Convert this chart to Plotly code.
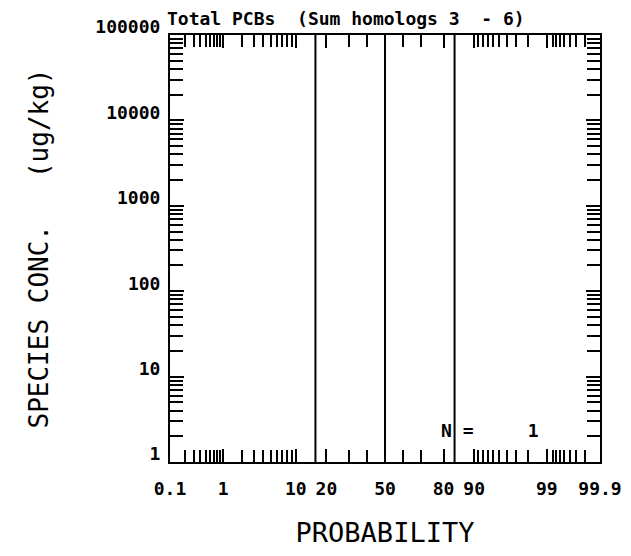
import math
import plotly.graph_objects as go
from statistics import NormalDist

# ---- data ----
title_text = "Total PCBs\u00a0\u00a0(Sum homologs 3\u00a0\u00a0-\u00a06)"
x_major_probs = [0.1, 1, 10, 20, 50, 80, 90, 99, 99.9]
x_major_labels = ["0.1", "1", "10", "20", "50", "80", "90", "99", "99.9"]
x_minor_probs = [0.2, 0.3, 0.4, 0.5, 0.6, 0.7, 0.8, 0.9,
                 2, 3, 4, 5, 6, 7, 8, 9,
                 30, 40, 60, 70,
                 91, 92, 93, 94, 95, 96, 97, 98,
                 99.2, 99.3, 99.4, 99.5, 99.6, 99.7, 99.8]
y_major_vals = [1, 10, 100, 1000, 10000, 100000]
y_major_labels = ["1", "10", "100", "1000", "10000", "100000"]
y_minor_mults = [2, 3, 4, 5, 6, 7, 8, 9]
line_probs = [15.87, 50, 84.13]   # mean and +/- 1 sigma
n_samples = 1
y_low, y_high = 1, 100000
p_low, p_high = 0.1, 99.9

nd = NormalDist()
def z(p):
    return nd.inv_cdf(p / 100.0)

x_major = [z(p) for p in x_major_probs]
x_minor = [z(p) for p in x_minor_probs]
y_minor = [m * d for d in y_major_vals[:-1] for m in y_minor_mults]

xr = [z(p_low), z(p_high)]
yr = [math.log10(y_low), math.log10(y_high)]

fig = go.Figure()

lx, ly = [], []
for p in line_probs:
    lx += [z(p), z(p), None]
    ly += [y_low, y_high, None]
fig.add_trace(go.Scatter(x=lx, y=ly, mode="lines",
                         line=dict(color="black", width=2),
                         showlegend=False, hoverinfo="skip"))
# invisible trace on mirrored axes
fig.add_trace(go.Scatter(x=[z(50)], y=[10], xaxis="x2", yaxis="y2",
                         mode="markers", marker=dict(opacity=0),
                         showlegend=False, hoverinfo="skip"))

MONO = "DejaVu Sans Mono"
tickfont = dict(family=MONO, size=18, color="black", weight="bold")

xcommon = dict(range=xr, showgrid=False, zeroline=False, showline=True,
               automargin=False,
               linecolor="black", linewidth=2, ticks="inside", ticklen=13,
               tickwidth=1.5, tickcolor="black", tickmode="array",
               tickvals=x_major,
               minor=dict(tickmode="array", tickvals=x_minor, ticks="inside",
                          ticklen=12, tickwidth=1.5, tickcolor="black",
                          showgrid=False))
ycommon = dict(type="log", range=yr, showgrid=False, zeroline=False,
               automargin=False,
               showline=True, linecolor="black", linewidth=2,
               ticks="inside", ticklen=14, tickwidth=1.5, tickcolor="black",
               tickmode="array", tickvals=y_major_vals,
               minor=dict(tickmode="array", tickvals=y_minor, ticks="inside",
                          ticklen=13, tickwidth=1.5, tickcolor="black",
                          showgrid=False))

W, H = 615, 540  # page body adds an 8px margin around the figure
fig.update_layout(
    width=W, height=H,
    margin=dict(l=162, r=23, t=27, b=86),
    paper_bgcolor="white", plot_bgcolor="white",
    showlegend=False,
    title=dict(text=title_text, font=dict(family=MONO, size=18,
                                          color="black", weight="bold"),
               xref="container", x=159 / W, xanchor="left",
               yref="container", y=1 - 11 / H, yanchor="middle"),
    xaxis=dict(**xcommon, ticktext=x_major_labels, tickfont=tickfont,
               ticklabelstandoff=9,
               title=dict(text="PROBABILITY",
                          font=dict(family=MONO, size=27, color="black"),
                          standoff=35)),
    xaxis2=dict(**xcommon, overlaying="x", side="top",
                showticklabels=False),
    yaxis=dict(**ycommon, ticktext=y_major_labels, tickfont=tickfont,
               ticklabelshift=-8, ticklabelstandoff=4,
               title=dict(text="SPECIES CONC.\u00a0\u00a0\u00a0(ug/kg)",
                          font=dict(family=MONO, size=26, color="black"),
                          standoff=39)),
    yaxis2=dict(**ycommon, overlaying="y", side="right",
                showticklabels=False),
    annotations=[
        dict(text="N\u00a0=" + "\u00a0" * 5 + str(n_samples),
             xref="paper", yref="paper", x=(439 - 170) / 430,
             y=(462 - 430) / 427,
             xanchor="left", yanchor="middle", showarrow=False,
             font=dict(family=MONO, size=18, color="black", weight="bold")),
    ],
)

fig.write_html("out.html")
